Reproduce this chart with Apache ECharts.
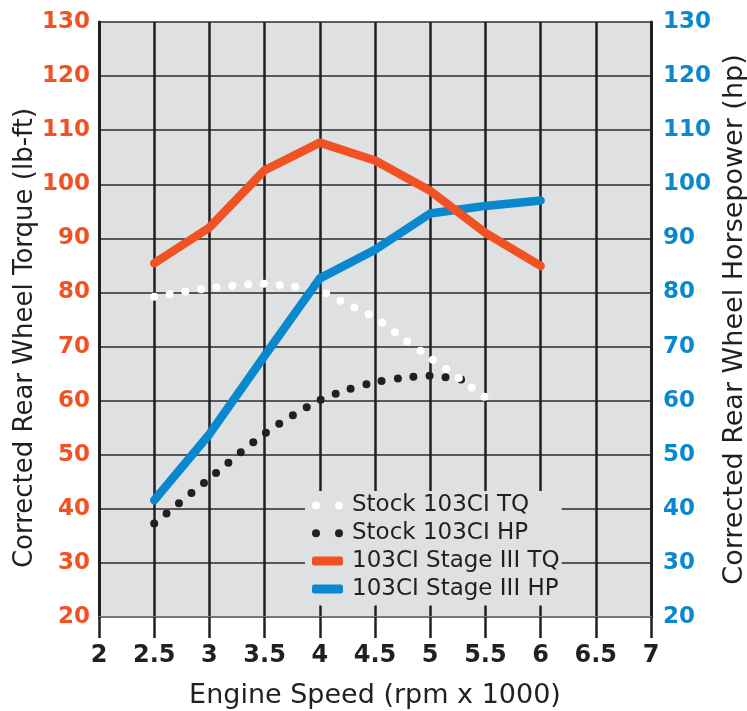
<!DOCTYPE html>
<html>
<head>
<meta charset="utf-8">
<script src="https://cdn.jsdelivr.net/npm/echarts@6/dist/echarts.min.js"></script>
<style>html,body{margin:0;padding:0;background:#fff}#c{width:747px;height:711px}</style>
</head>
<body>
<div id="c"></div>
<script>
// Data (x = engine speed in rpm x 1000)
const stockTQ = [[2.5,79.2],[3,80.8],[3.5,81.6],[3.75,81.1],[4,80.3],[4.25,77.8],[4.5,75.3],[4.75,71.6],[5,67.9],[5.25,64.3],[5.5,60.6]];
const stockHP = [[2.5,37.3],[3,45.6],[3.5,53.9],[4,60.1],[4.25,62.0],[4.5,63.4],[4.75,64.2],[5,64.6],[5.25,64.0],[5.42,63.4]];
const stage3TQ = [[2.5,85.4],[3,92.0],[3.5,102.6],[4,107.7],[4.5,104.4],[5,98.8],[5.5,91.0],[6,84.9]];
const stage3HP = [[2.5,41.6],[3,53.8],[3.5,68.3],[4,82.6],[4.5,87.9],[5,94.6],[5.5,96.0],[6,97.0]];
const seriesNames = ['Stock 103CI TQ','Stock 103CI HP','103CI Stage III TQ','103CI Stage III HP'];

const ORANGE = '#f05223';
const BLUE = '#0988d0';
const INK = '#231f20';
const FONT = '"DejaVu Sans"';
const dotsIcon = 'path://M0,4.5A4,4 0 1,0 8,4.5A4,4 0 1,0 0,4.5Z M23,4.5A4,4 0 1,0 31,4.5A4,4 0 1,0 23,4.5Z M0,0.5L0,0.5Z M31,8.5L31,8.5Z';

const chart = echarts.init(document.getElementById('c'), null, {renderer:'canvas'});
chart.setOption({
  animation: false,
  textStyle: {fontFamily: FONT},
  grid: {left: 99, right: 96, top: 22, bottom: 94, show: true, backgroundColor: '#dfe0e2', borderWidth: 0,
         containLabel: false, outerBoundsMode: 'none'},
  legend: {
    orient: 'vertical', left: 305, top: 491,
    padding: [3, 2, 5, 7],
    backgroundColor: '#dfe0e2',
    itemWidth: 31, itemHeight: 9, itemGap: 4.8,
    textStyle: {fontFamily: FONT, fontSize: 23, color: INK, padding: [0,0,0,4]},
    data: [
      {name: seriesNames[0], icon: dotsIcon, itemStyle: {color: '#ffffff'}},
      {name: seriesNames[1], icon: dotsIcon, itemStyle: {color: INK}},
      {name: seriesNames[2], icon: 'roundRect', itemStyle: {color: ORANGE}},
      {name: seriesNames[3], icon: 'roundRect', itemStyle: {color: BLUE}}
    ]
  },
  xAxis: {
    type: 'value', min: 2, max: 7, interval: 0.5,
    name: 'Engine Speed (rpm x 1000)', nameLocation: 'middle', nameGap: 65,
    nameTextStyle: {fontFamily: FONT, fontSize: 27, color: INK},
    axisLine: {show: true, lineStyle: {color: '#767676', width: 2}},
    axisTick: {show: true, length: 21, lineStyle: {color: INK, width: 2.5}},
    axisLabel: {fontFamily: FONT, fontSize: 24, fontWeight: 'bold', color: INK, margin: 27},
    splitLine: {show: true, lineStyle: {color: INK, width: 2.5}}
  },
  yAxis: [{
    type: 'value', min: 20, max: 130, interval: 10, position: 'left',
    name: 'Corrected Rear Wheel Torque (lb-ft)', nameLocation: 'middle', nameRotate: 90, nameGap: 61,
    nameMoveOverlap: false,
    nameTextStyle: {fontFamily: FONT, fontSize: 26, color: INK, padding: [0, 37, 0, 0]},
    axisLine: {show: true, lineStyle: {color: INK, width: 3}},
    axisTick: {show: false},
    axisLabel: {fontFamily: FONT, fontSize: 23, fontWeight: 'bold', color: ORANGE, margin: 9},
    splitLine: {show: true, lineStyle: {color: '#2b2b2b', width: 1.5}}
  }, {
    type: 'value', min: 20, max: 130, interval: 10, position: 'right',
    name: 'Corrected Rear Wheel Horsepower (hp)', nameLocation: 'middle', nameRotate: 90, nameGap: 66,
    nameTextStyle: {fontFamily: FONT, fontSize: 27, color: INK},
    axisLine: {show: true, lineStyle: {color: INK, width: 3}},
    axisTick: {show: false},
    axisLabel: {fontFamily: FONT, fontSize: 23, fontWeight: 'bold', color: BLUE, margin: 12},
    splitLine: {show: false}
  }],
  series: [
    {name: seriesNames[1], type: 'line', yAxisIndex: 1, data: stockHP, smooth: 0.3, showSymbol: false, symbol: 'none',
     itemStyle: {color: INK}, lineStyle: {color: INK, width: 8, type: [0, 16], cap: 'round'}, z: 2},
    {name: seriesNames[0], type: 'line', yAxisIndex: 0, data: stockTQ, smooth: 0.3, showSymbol: false, symbol: 'none',
     itemStyle: {color: '#ffffff'}, lineStyle: {color: '#ffffff', width: 8, type: [0, 15.8], cap: 'round'}, z: 3},
    {name: seriesNames[3], type: 'line', yAxisIndex: 1, data: stage3HP, showSymbol: false, symbol: 'none',
     itemStyle: {color: BLUE}, lineStyle: {color: BLUE, width: 8.5, cap: 'round', join: 'round'}, z: 4},
    {name: seriesNames[2], type: 'line', yAxisIndex: 0, data: stage3TQ, showSymbol: false, symbol: 'none',
     itemStyle: {color: ORANGE}, lineStyle: {color: ORANGE, width: 8.5, cap: 'round', join: 'round'}, z: 5}
  ]
});
</script>
</body>
</html>
